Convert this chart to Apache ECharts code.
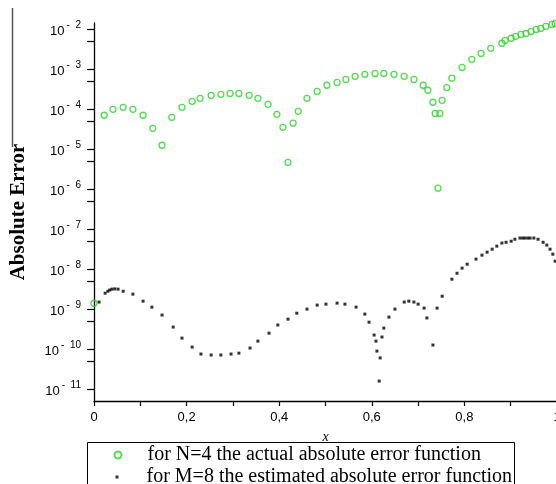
<!DOCTYPE html>
<html>
<head>
<meta charset="utf-8">
<script src="https://cdn.jsdelivr.net/npm/echarts@6/dist/echarts.min.js"></script>
<style>
  html, body { margin: 0; padding: 0; background: #fff; }
  #chart { width: 556px; height: 484px; }
</style>
</head>
<body>
<div id="chart"></div>
<script>
// N=4, actual absolute error (green circles)
const xN = [0.000, 0.022, 0.041, 0.063, 0.084, 0.106, 0.127, 0.147, 0.168, 0.190,
  0.212, 0.229, 0.253, 0.274, 0.294, 0.313, 0.335, 0.354, 0.376, 0.395,
  0.408, 0.419, 0.430, 0.441, 0.460, 0.482, 0.503, 0.525, 0.544, 0.564,
  0.585, 0.607, 0.626, 0.648, 0.670, 0.691, 0.711, 0.721, 0.732, 0.737,
  0.743, 0.747, 0.752, 0.762, 0.773, 0.795, 0.816, 0.836, 0.857, 0.881,
  0.888, 0.901, 0.911, 0.922, 0.933, 0.944, 0.955, 0.965, 0.976, 0.989, 0.996];
const errN = [1.4e-9, 7.1e-5, 1.0e-4, 1.12e-4, 1.0e-4, 7.1e-5, 3.35e-5, 1.26e-5, 6.3e-5, 1.12e-4,
  1.58e-4, 1.88e-4, 2.24e-4, 2.37e-4, 2.5e-4, 2.5e-4, 2.24e-4, 1.88e-4, 1.33e-4, 7.5e-5,
  3.55e-5, 4.7e-6, 4.5e-5, 8.9e-5, 1.88e-4, 2.8e-4, 4.0e-4, 4.7e-4, 5.6e-4, 6.7e-4,
  7.5e-4, 7.9e-4, 7.9e-4, 7.5e-4, 6.7e-4, 5.6e-4, 4.0e-4, 3.0e-4, 1.5e-4, 7.9e-5,
  1.06e-6, 7.9e-5, 1.68e-4, 3.5e-4, 6.0e-4, 1.12e-3, 1.78e-3, 2.5e-3, 3.35e-3, 4.5e-3,
  5.3e-3, 6.0e-3, 6.7e-3, 7.5e-3, 7.9e-3, 8.9e-3, 1.0e-2, 1.06e-2, 1.19e-2, 1.33e-2, 1.41e-2];

// M=8, estimated absolute error (black dots)
const xM = [0.011, 0.024, 0.030, 0.034, 0.039, 0.045, 0.052, 0.063, 0.084, 0.106,
  0.125, 0.147, 0.171, 0.190, 0.212, 0.231, 0.253, 0.274, 0.296, 0.313,
  0.337, 0.354, 0.378, 0.397, 0.419, 0.438, 0.460, 0.482, 0.501, 0.525,
  0.542, 0.566, 0.585, 0.594, 0.605, 0.609, 0.611, 0.616, 0.618, 0.622,
  0.626, 0.637, 0.650, 0.670, 0.680, 0.691, 0.700, 0.713, 0.719, 0.732,
  0.741, 0.752, 0.773, 0.784, 0.795, 0.806, 0.825, 0.838, 0.849, 0.860,
  0.870, 0.881, 0.890, 0.901, 0.909, 0.920, 0.926, 0.931, 0.937, 0.942,
  0.950, 0.959, 0.970, 0.978, 0.985, 0.991, 0.996];
const errM = [1.5e-9, 2.5e-9, 2.8e-9, 3.0e-9, 3.16e-9, 3.2e-9, 3.16e-9, 2.8e-9, 2.37e-9, 1.58e-9,
  1.12e-9, 7.1e-10, 3.55e-10, 1.88e-10, 1.12e-10, 7.5e-11, 7.1e-11, 7.1e-11, 7.5e-11, 7.9e-11,
  1.06e-10, 1.58e-10, 2.5e-10, 4.0e-10, 5.6e-10, 7.9e-10, 1.0e-9, 1.26e-9, 1.33e-9, 1.41e-9,
  1.33e-9, 1.12e-9, 7.5e-10, 4.7e-10, 2.24e-10, 1.58e-10, 8.9e-11, 1.58e-11, 6.0e-11, 2.0e-10,
  3.35e-10, 6.3e-10, 1.0e-9, 1.5e-9, 1.58e-9, 1.5e-9, 1.33e-9, 1.06e-9, 6.0e-10, 1.26e-10,
  1.06e-9, 2.1e-9, 5.6e-9, 7.9e-9, 1.06e-8, 1.33e-8, 1.78e-8, 2.24e-8, 2.66e-8, 3.16e-8,
  3.76e-8, 4.5e-8, 4.7e-8, 5.0e-8, 5.6e-8, 6.0e-8, 6.0e-8, 6.0e-8, 6.0e-8, 6.0e-8,
  6.0e-8, 5.6e-8, 4.7e-8, 4.0e-8, 3.16e-8, 2.37e-8, 1.58e-8];

const decades = [-11, -10, -9, -8, -7, -6, -5, -4, -3, -2];
const xLabels = [0, 0.2, 0.4, 0.6, 0.8, 1];
const nameN = "for N=4 the actual absolute error function";
const nameM = "for M=8 the estimated absolute error function";

const yMin = -11.3;
const yMax = -1.84;

// the y axis is a log10 axis; extra ticks sit at 5 x 10^k
const minorTicks = decades
  .map((k) => k - Math.log10(2))
  .filter((v) => v >= yMin && v <= yMax);

function toPoints(xs, errs) {
  return xs.map((x, i) => [x, Math.log10(errs[i])]);
}

const chart = echarts.init(document.getElementById("chart"), null, { renderer: "canvas" });

const labelFont = "Liberation Sans, Arial, sans-serif";
const serif = "Liberation Serif, Times New Roman, serif";

chart.setOption({
  animation: false,
  backgroundColor: "#fff",
  grid: { left: 94, right: -1, top: 23, bottom: 83, outerBoundsMode: "none" },
  xAxis: {
    type: "value",
    min: 0,
    max: 1,
    interval: 0.1,
    name: "x",
    nameLocation: "middle",
    nameGap: 29,
    nameTextStyle: { fontFamily: serif, fontStyle: "italic", fontSize: 14, color: "#000" },
    axisLine: { lineStyle: { color: "#000", width: 1.3 } },
    axisTick: { show: true, length: 5, lineStyle: { color: "#000", width: 1.2 } },
    axisLabel: {
      color: "#000",
      fontFamily: labelFont,
      fontSize: 13,
      margin: 10,
      customValues: xLabels,
      formatter: (v) => String(Math.round(v * 10) / 10).replace(".", ",")
    },
    splitLine: { show: false }
  },
  yAxis: {
    type: "value",
    min: yMin,
    max: yMax,
    name: "Absolute Error",
    nameLocation: "middle",
    nameRotate: 90,
    nameGap: 65,
    nameTextStyle: { fontFamily: serif, fontWeight: "bold", fontSize: 21, color: "#000" },
    axisLine: { show: true, lineStyle: { color: "#000", width: 1.3 } },
    axisTick: {
      show: true,
      length: 7,
      customValues: decades.concat(minorTicks),
      lineStyle: { color: "#000", width: 1.2 }
    },
    axisLabel: {
      margin: 13,
      customValues: decades,
      formatter: (v) => "{b|10}{s|-  " + Math.abs(Math.round(v)) + "}",
      rich: {
        b: { fontFamily: labelFont, fontSize: 13, color: "#000", lineHeight: 18, verticalAlign: "bottom" },
        s: { fontFamily: labelFont, fontSize: 10, color: "#000", lineHeight: 18, verticalAlign: "top", padding: [0, 0, 0, 2] }
      }
    },
    splitLine: { show: false }
  },
  legend: [
    {
      data: [{ name: nameN, icon: "circle" }],
      left: 113.5,
      top: 445,
      padding: 0,
      itemWidth: 7,
      itemHeight: 7,
      selectedMode: false,
      textStyle: { fontFamily: serif, fontSize: 20, color: "#000", lineHeight: 20, padding: [0, 0, 0, 21] }
    },
    {
      data: [{ name: nameM, icon: "rect" }],
      left: 115.5,
      top: 467,
      padding: 0,
      itemWidth: 3,
      itemHeight: 3,
      selectedMode: false,
      itemStyle: { color: "#000" },
      textStyle: { fontFamily: serif, fontSize: 20, color: "#000", lineHeight: 20, padding: [0, 0, 0, 23] }
    }
  ],
  graphic: [
    {
      type: "line",
      shape: { x1: 12.5, y1: 8, x2: 12.5, y2: 147 },
      style: { stroke: "#555", lineWidth: 1.5 }
    },
    {
      type: "rect",
      shape: { x: 87.5, y: 442.5, width: 427, height: 60 },
      style: { fill: "none", stroke: "#000", lineWidth: 1 }
    }
  ],
  series: [
    {
      name: nameN,
      type: "scatter",
      symbol: "circle",
      symbolSize: 6,
      itemStyle: { color: "rgba(0,0,0,0)", borderColor: "#2ad22a", borderWidth: 1.3 },
      data: toPoints(xN, errN),
      z: 3
    },
    {
      name: nameM,
      type: "scatter",
      symbol: "rect",
      symbolSize: 3,
      itemStyle: { color: "#000" },
      data: toPoints(xM, errM),
      z: 4
    }
  ]
});
</script>
</body>
</html>
